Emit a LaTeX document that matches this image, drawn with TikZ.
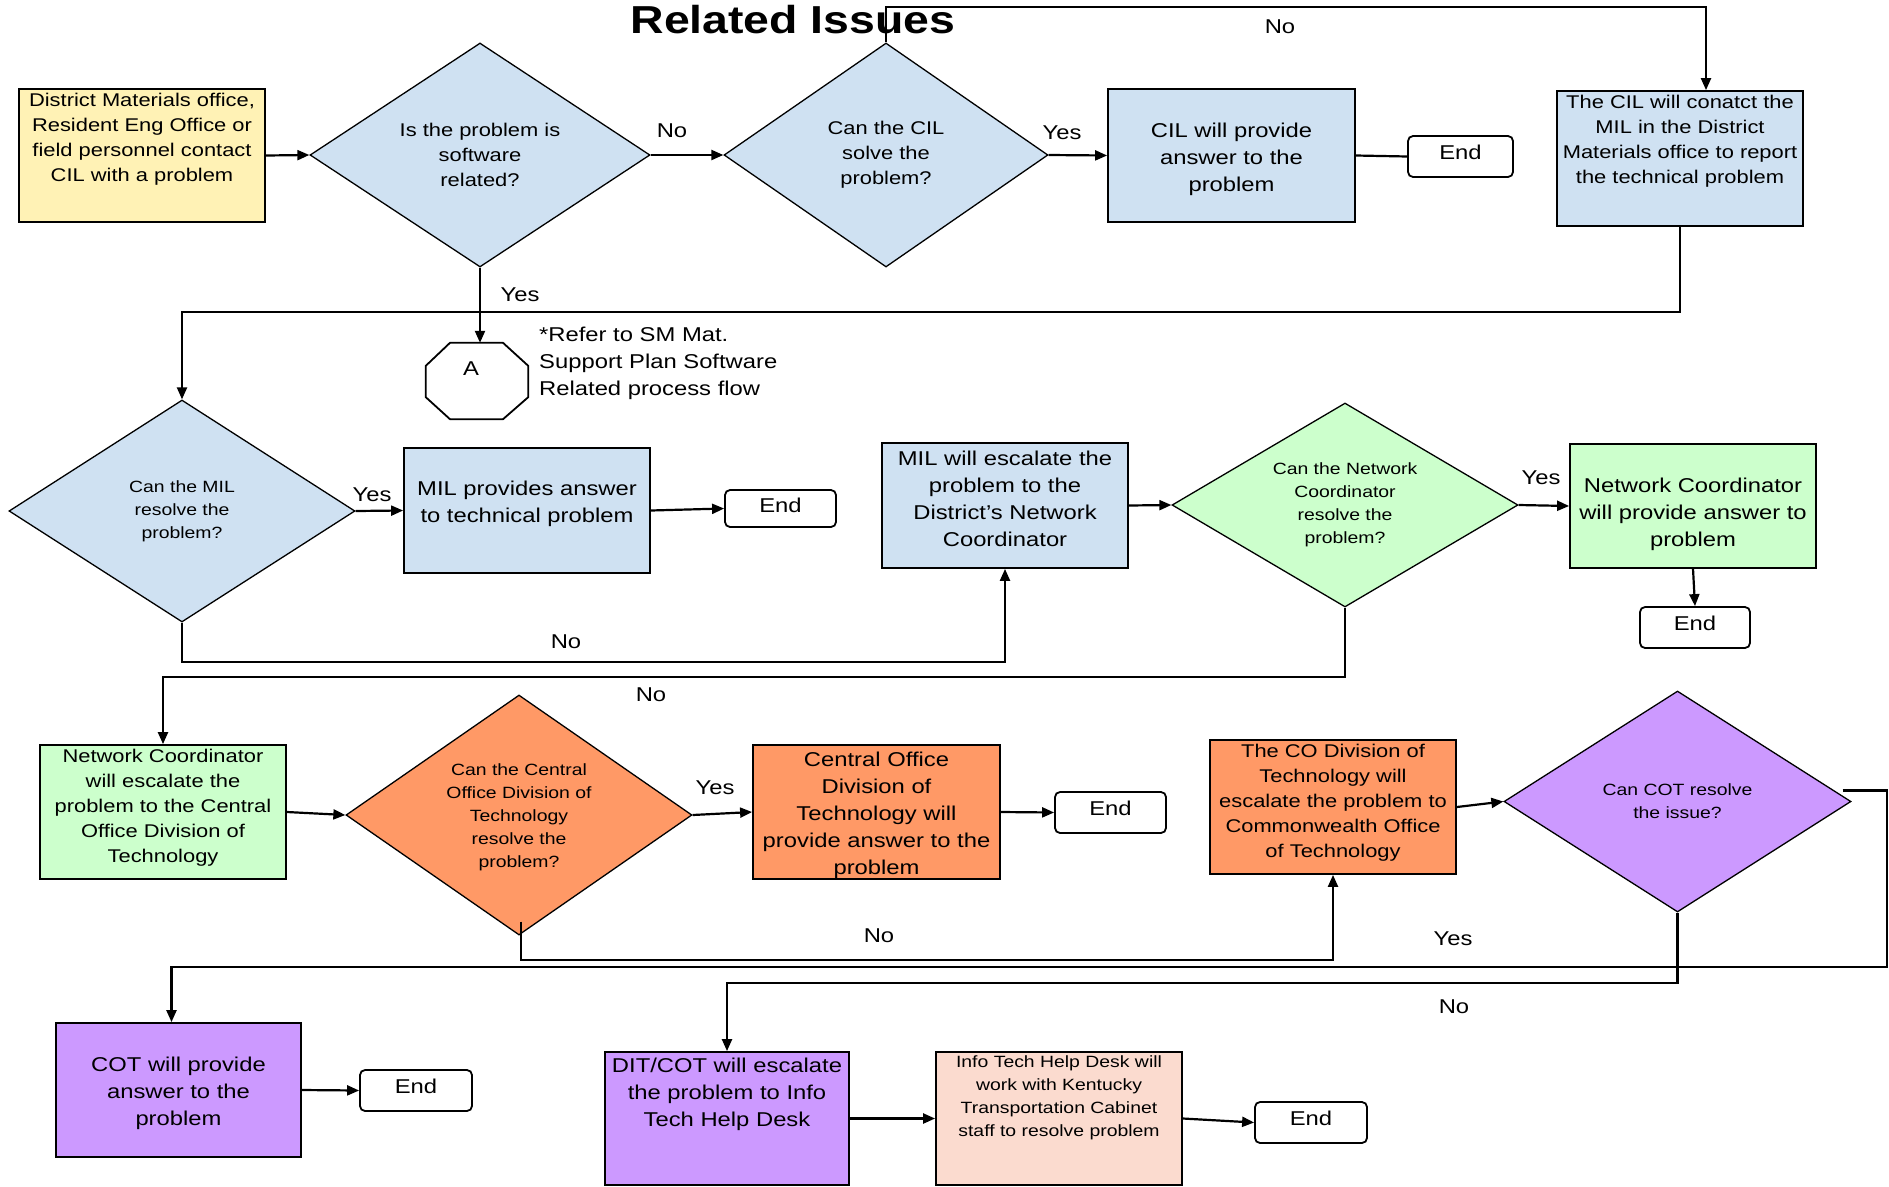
\documentclass[tikz,border=0pt]{standalone}
\usepackage{fontspec}
\setmainfont{Liberation Sans}[FakeStretch=1.19]
\usetikzlibrary{shapes.geometric,arrows.meta,calc}
\definecolor{yellowF}{HTML}{FFF2B5}
\definecolor{blueF}{HTML}{CFE1F2}
\definecolor{greenF}{HTML}{CCFFCC}
\definecolor{orangeF}{HTML}{FF9966}
\definecolor{purpleF}{HTML}{CC99FF}
\definecolor{pinkF}{HTML}{FBDBCF}
\tikzset{
  boxnode/.style={draw=black, line width=1.8pt, inner sep=0pt, rectangle},
  dianode/.style={draw=black, line width=1.3pt, inner sep=0pt, shape=diamond},
  endnode/.style={draw=black, line width=1.8pt, inner sep=0pt, rounded corners=5pt, fill=white, minimum width=#1, minimum height=41},
  ttw/.style={align=center, inner sep=0pt, font=\fontsize{20}{27}\selectfont},
  tte/.style={align=center, inner sep=0pt, font=\fontsize{18.4}{25}\selectfont},
  tts/.style={align=center, inner sep=0pt, font=\fontsize{16.3}{23}\selectfont},
  lbl/.style={inner sep=0pt, font=\fontsize{20}{24}\selectfont},
  conn/.style={line width=2.2pt},
  arr/.style={line width=2.2pt, -{Triangle[length=12pt,width=10pt]}},
}
\begin{document}
\begin{tikzpicture}[x=1pt,y=-1pt]
\useasboundingbox (0,0) rectangle (1889,1186);

% title
\node[anchor=base, inner sep=0pt, font=\fontsize{39}{44}\selectfont\bfseries] (title) at (793,33) {Related Issues};

% ---------- row 1 ----------
\node[boxnode, fill=yellowF, minimum width=246, minimum height=133] (yb) at (142,155.5) {};
\node[tte] (ybt) at (142,139.5) {District Materials office,\\Resident Eng Office or\\field personnel contact\\CIL with a problem};

\node[dianode, fill=blueF, minimum width=340, minimum height=224] (d1) at (480,155) {};
\node[tte] (d1t) at (480,155) {Is the problem is\\software\\related?};

\node[dianode, fill=blueF, minimum width=324, minimum height=224] (d2) at (886,155) {};
\node[tte] (d2t) at (886,155) {Can the CIL\\solve the\\problem?};

\node[boxnode, fill=blueF, minimum width=247, minimum height=133] (cil) at (1231.5,155.5) {};
\node[ttw] (cilt) at (1231.5,159) {CIL will provide\\answer to the\\problem};

\node[endnode=105] (end1) at (1460.5,156.5) {};
\node[ttw] (end1t) at (1460.5,152) {End};

\node[boxnode, fill=blueF, minimum width=246, minimum height=135] (cilmil) at (1680,158.5) {};
\node[tte] (cilmilt) at (1680,141.5) {The CIL will conatct the\\MIL in the District\\Materials office to report\\the technical problem};

% A connector
\node[inner sep=0pt, minimum width=102, minimum height=76] (A) at (477,381) {};
\draw[line width=1.8pt] ($(A.north)+(-27,0)$) -- ($(A.north)+(26,0)$) -- ($(A.north east)+(0,23)$) -- ($(A.south east)+(0,-22)$) -- ($(A.south)+(26,0)$) -- ($(A.south)+(-27,0)$) -- ($(A.south west)+(0,-22)$) -- ($(A.north west)+(0,23)$) -- cycle;
\node[ttw] (At) at (471,369) {A};
\node[anchor=west, align=left, inner sep=0pt, font=\fontsize{20}{27}\selectfont] (note) at (539,363) {*Refer to SM Mat.\\Support Plan Software\\Related process flow};

% ---------- row 2 ----------
\node[dianode, fill=blueF, minimum width=346, minimum height=222] (dm) at (182,511) {};
\node[tts] (dmt) at (182,511) {Can the MIL\\resolve the\\problem?};

\node[boxnode, fill=blueF, minimum width=246, minimum height=125] (mil) at (527,510.5) {};
\node[ttw] (milt) at (527,504) {MIL provides answer\\to technical problem};

\node[endnode=111, minimum height=37] (end2) at (780.5,508.5) {};
\node[ttw] (end2t) at (780.5,505) {End};

\node[boxnode, fill=blueF, minimum width=246, minimum height=125] (milesc) at (1005,505.5) {};
\node[ttw] (milesct) at (1005,498.5) {MIL will escalate the\\problem to the\\District's Network\\Coordinator};

\node[dianode, fill=greenF, minimum width=346, minimum height=204] (dnc) at (1345,505) {};
\node[tts] (dnct) at (1345,505) {Can the Network\\Coordinator\\resolve the\\problem?};

\node[boxnode, fill=greenF, minimum width=246, minimum height=124] (ncbox) at (1693,506) {};
\node[ttw] (ncboxt) at (1693,514) {Network Coordinator\\will provide answer to\\problem};

\node[endnode=110] (end3) at (1695,627.5) {};
\node[ttw] (end3t) at (1695,623) {End};

% ---------- row 3 ----------
\node[boxnode, fill=greenF, minimum width=246, minimum height=134] (ncesc) at (163,812) {};
\node[tte] (ncesct) at (163,808) {Network Coordinator\\will escalate the\\problem to the Central\\Office Division of\\Technology};

\node[dianode, fill=orangeF, minimum width=346, minimum height=240] (dco) at (519,815) {};
\node[tts] (dcot1) at (519,817) {Can the Central\\Office Division of\\Technology\\resolve the\\problem?};

\node[boxnode, fill=orangeF, minimum width=247, minimum height=134] (cobox) at (876.5,812) {};
\node[ttw] (coboxt) at (876.5,815) {Central Office\\Division of\\Technology will\\provide answer to the\\problem};

\node[endnode=111] (end4) at (1110.5,812.5) {};
\node[ttw] (end4t) at (1110.5,808) {End};

\node[boxnode, fill=orangeF, minimum width=246, minimum height=134] (cotesc) at (1333,807) {};
\node[tte] (cotesct) at (1333,803) {The CO Division of\\Technology will\\escalate the problem to\\Commonwealth Office\\of Technology};

\node[dianode, fill=purpleF, minimum width=347, minimum height=221] (dcot) at (1677.5,801.5) {};
\node[tts] (dcott) at (1677.5,801) {Can COT resolve\\the issue?};

% ---------- row 4 ----------
\node[boxnode, fill=purpleF, minimum width=245, minimum height=134] (cotbox) at (178.5,1090) {};
\node[ttw] (cotboxt) at (178.5,1093) {COT will provide\\answer to the\\problem};

\node[endnode=112] (end5) at (416,1090.5) {};
\node[ttw] (end5t) at (416,1086) {End};

\node[boxnode, fill=purpleF, minimum width=244, minimum height=133] (dit) at (727,1118.5) {};
\node[ttw] (ditt) at (727,1094.5) {DIT/COT will escalate\\the problem to Info\\Tech Help Desk};

\node[boxnode, fill=pinkF, minimum width=246, minimum height=133] (info) at (1059,1118.5) {};
\node[tts] (infot) at (1059,1098) {Info Tech Help Desk will\\work with Kentucky\\Transportation Cabinet\\staff to resolve problem};

\node[endnode=112] (end6) at (1311,1122.5) {};
\node[ttw] (end6t) at (1311,1118) {End};

% ---------- connectors ----------
\coordinate (c1) at (1706,7);
\coordinate (c2) at (182,312);
\coordinate (c4) at (521,960);
\coordinate (c5) at (1887,967);

\draw[arr] (yb.east) -- (d1.west);
\draw[arr] (d1.east) -- (d2.west);
\draw[arr] (d2.east) -- (cil.west);
\draw[conn] (cil.east) -- (end1.west);
\draw[arr] (d2.north) |- (c1) -- (c1 |- cilmil.north);
\draw[arr] (cilmil.south) |- (c2) -- (dm.north);
\draw[arr] (d1.south) -- (d1.south |- A.north);

\draw[arr] (dm.east) -- (mil.west);
\draw[arr] (mil.east) -- (end2.west);
\draw[arr] (dm.south) -- ++(0,39) -| (milesc.south);
\draw[arr] (milesc.east) -- (dnc.west);
\draw[arr] (dnc.east) -- (ncbox.west);
\draw[arr] (ncbox.south) -- (end3.north);
\draw[arr] (dnc.south) -- ++(0,69) -| (ncesc.north);

\draw[arr] (ncesc.east) -- (dco.west);
\draw[arr] (dco.east) -- (cobox.west);
\draw[arr] (cobox.east) -- (end4.west);
\draw[arr] ([xshift=2pt,yshift=14pt]dco.south) -- (c4) -| (cotesc.south);
\draw[arr] (cotesc.east) -- (dcot.west);
\draw[arr] ([xshift=-9pt,yshift=11pt]dcot.east) -| (c5) -| ([xshift=-7pt]cotbox.north);
\draw[arr] (dcot.south) -- ++(0,70) -| (dit.north);

\draw[arr] (cotbox.east) -- (end5.west);
\draw[arr] (dit.east) -- (info.west);
\draw[arr] (info.east) -- (end6.west);

% ---------- labels ----------
\node[lbl] (l1) at (672,131) {No};
\node[lbl] (l2) at (1062,133) {Yes};
\node[lbl] (l3) at (1280,27) {No};
\node[lbl] (l4) at (520,295) {Yes};
\node[lbl] (l5) at (372,495) {Yes};
\node[lbl] (l6) at (566,642) {No};
\node[lbl] (l7) at (1541,478) {Yes};
\node[lbl] (l8) at (651,695) {No};
\node[lbl] (l9) at (715,788) {Yes};
\node[lbl] (l10) at (879,936) {No};
\node[lbl] (l11) at (1453,939) {Yes};
\node[lbl] (l12) at (1454,1007) {No};
\end{tikzpicture}
\end{document}
